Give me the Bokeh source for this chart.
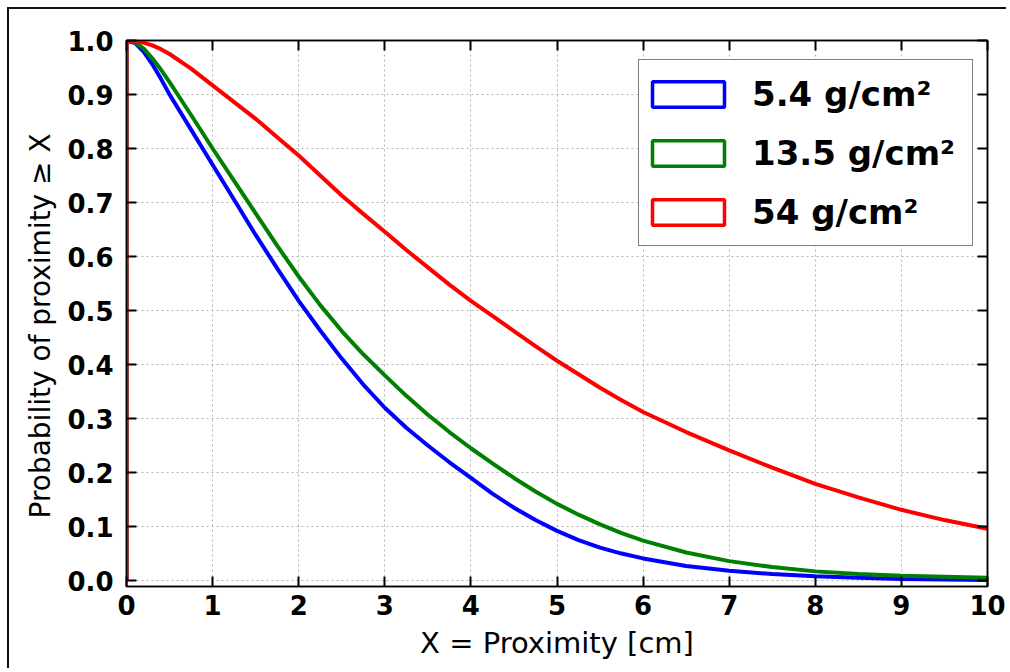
from bokeh.plotting import figure
from bokeh.models import (Range1d, FixedTicker, LinearAxis, Legend, LegendItem,
                          CustomJSTickFormatter, Title)
from bokeh.embed import file_html
from bokeh.resources import INLINE

# ---- data ----
x_cm = [0.0, 0.0, 0.1, 0.2, 0.3, 0.4, 0.5, 0.75, 1.0, 1.25, 1.5, 1.75, 2.0, 2.25,
        2.5, 2.75, 3.0, 3.25, 3.5, 3.75, 4.0, 4.25, 4.5, 4.75, 5.0, 5.25, 5.5,
        5.75, 6.0, 6.5, 7.0, 7.5, 8.0, 8.5, 9.0, 9.5, 10.0]
p_5_4 = [0.0, 1.0, 0.995, 0.979, 0.956, 0.929, 0.90, 0.835, 0.77, 0.705, 0.64,
         0.578, 0.518, 0.463, 0.411, 0.363, 0.32, 0.283, 0.25, 0.219, 0.19, 0.161,
         0.135, 0.112, 0.092, 0.075, 0.061, 0.05, 0.041, 0.027, 0.018, 0.012,
         0.008, 0.005, 0.003, 0.002, 0.001]
p_13_5 = [0.0, 1.0, 0.996, 0.985, 0.967, 0.946, 0.923, 0.862, 0.80, 0.74, 0.68,
          0.62, 0.563, 0.51, 0.462, 0.419, 0.38, 0.342, 0.307, 0.275, 0.245,
          0.217, 0.19, 0.165, 0.142, 0.122, 0.104, 0.088, 0.074, 0.052, 0.036,
          0.025, 0.017, 0.012, 0.009, 0.007, 0.005]
p_54 = [0.0, 1.0, 0.999, 0.996, 0.991, 0.984, 0.975, 0.948, 0.917, 0.886, 0.855,
        0.821, 0.787, 0.75, 0.713, 0.679, 0.646, 0.612, 0.58, 0.548, 0.518, 0.49,
        0.462, 0.434, 0.407, 0.382, 0.357, 0.334, 0.312, 0.275, 0.241, 0.209,
        0.179, 0.154, 0.131, 0.112, 0.096]
series_labels = ["5.4 g/cm\u00b2", "13.5 g/cm\u00b2", "54 g/cm\u00b2"]
series_colors = ["#0000ff", "#008000", "#ff0000"]
x_ticks = [0, 1, 2, 3, 4, 5, 6, 7, 8, 9, 10]
y_ticks = [0.0, 0.1, 0.2, 0.3, 0.4, 0.5, 0.6, 0.7, 0.8, 0.9, 1.0]
x_title = "X = Proximity [cm]"
y_title = "Probability of proximity \u2265 X"

FONT = "DejaVu Sans"

p = figure(width=999, height=661, output_backend="svg", toolbar_location=None,
           x_range=Range1d(0, 10), y_range=Range1d(-0.011, 1.0),
           min_border_left=117, min_border_right=21, min_border_top=31,
           min_border_bottom=84)
p.margin = (7, 0, 0, 7)
p.styles = {"border-left": "2px solid #111111", "border-top": "2px solid #111111"}
p.background_fill_color = "white"
p.border_fill_color = "white"
p.outline_line_color = "black"
p.outline_line_width = 1.5

# grid
for g in (p.xgrid[0], p.ygrid[0]):
    g.grid_line_color = "#b5b5b5"
    g.grid_line_dash = "2 3"
    g.grid_line_width = 1
p.xgrid[0].ticker = FixedTicker(ticks=x_ticks)
p.ygrid[0].ticker = FixedTicker(ticks=y_ticks)


def style_axis(ax, ticks):
    ax.ticker = FixedTicker(ticks=ticks)
    ax.major_tick_in = 10
    ax.major_tick_out = 0
    ax.minor_tick_line_color = None
    ax.major_tick_line_color = "black"
    ax.major_tick_line_width = 2
    ax.axis_line_color = "black"
    ax.axis_line_width = 1.5
    ax.major_label_text_font = FONT
    ax.major_label_text_font_style = "bold"
    ax.major_label_text_font_size = "26px"
    ax.major_label_text_color = "black"
    ax.axis_label_text_font = FONT
    ax.axis_label_text_font_style = "normal"
    ax.axis_label_text_color = "black"


xa = p.xaxis[0]
ya = p.yaxis[0]
style_axis(xa, x_ticks)
style_axis(ya, y_ticks)
xa.axis_label = x_title
xa.axis_label_text_font_size = "29px"
xa.major_label_standoff = 8
xa.axis_label_standoff = 8
ya.major_label_standoff = 13
ya.formatter = CustomJSTickFormatter(code="return tick.toFixed(1);")

# y title as a side title (lets it sit a little below the frame centre)
ytl = Title(text=y_title, align="left", offset=68, text_font=FONT,
            text_font_size="28px", text_font_style="normal", text_color="black",
            standoff=16)
p.add_layout(ytl, "left")

blank = CustomJSTickFormatter(code="return '';")
top_ax = LinearAxis(formatter=blank)
right_ax = LinearAxis(formatter=blank)
style_axis(top_ax, x_ticks)
style_axis(right_ax, y_ticks)
top_ax.major_label_text_font_size = "1px"
right_ax.major_label_text_font_size = "1px"
top_ax.major_label_standoff = 0
right_ax.major_label_standoff = 0
p.add_layout(top_ax, "above")
p.add_layout(right_ax, "right")

items = []
for ys, lab, col in zip([p_5_4, p_13_5, p_54], series_labels, series_colors):
    p.line(x_cm, ys, line_color=col, line_width=4)
    # proxy renderer (hidden) that gives the legend its outlined-box glyph
    box = p.quad(left=x_cm[:1], right=x_cm[:1], top=ys[1:2], bottom=ys[1:2],
                 fill_color=None, line_color=col, line_width=3.5, visible=False)
    items.append(LegendItem(label=lab, renderers=[box]))

legend = Legend(items=items, location=(512, 340))
legend.label_text_font = FONT
legend.label_text_font_style = "bold"
legend.label_text_font_size = "34px"
legend.label_text_color = "black"
legend.glyph_width = 90
legend.glyph_height = 32
legend.label_height = 59
legend.label_width = 216
legend.label_standoff = 19
legend.spacing = 0
legend.padding = 4
legend.margin = 0
legend.border_line_color = "black"
legend.border_line_width = 1.5
legend.background_fill_color = "white"
legend.background_fill_alpha = 1.0
legend.inactive_fill_alpha = 0.0
p.add_layout(legend, "center")

open("out.html", "w").write(file_html(p, INLINE))
